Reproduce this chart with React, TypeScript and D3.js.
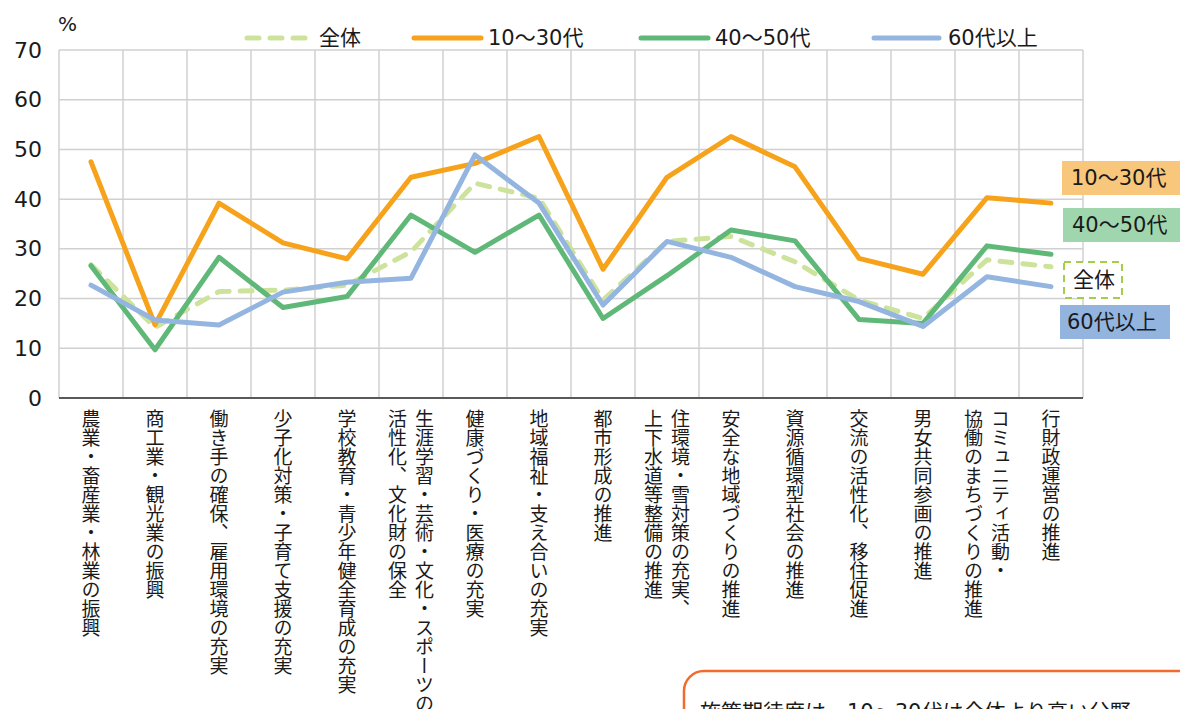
import * as d3 from 'd3';

const categories = [
  '農業・畜産業・林業の振興',
  '商工業・観光業の振興',
  '働き手の確保、雇用環境の充実',
  '少子化対策・子育て支援の充実',
  '学校教育・青少年健全育成の充実',
  '生涯学習・芸術・文化・スポーツの|活性化、文化財の保全',
  '健康づくり・医療の充実',
  '地域福祉・支え合いの充実',
  '都市形成の推進',
  '住環境・雪対策の充実、|上下水道等整備の推進',
  '安全な地域づくりの推進',
  '資源循環型社会の推進',
  '交流の活性化、移住促進',
  '男女共同参画の推進',
  'コミュニティ活動・|協働のまちづくりの推進',
  '行財政運営の推進',
];

const zentai = [26.8, 14.2, 21.4, 21.7, 22.7, 29.4, 43.2, 40.2, 19.7, 31.5, 32.5, 27.4, 19.7, 16.0, 27.8, 26.4];
const age10to30 = [47.5, 14.7, 39.2, 31.2, 28.0, 44.4, 47.2, 52.6, 25.9, 44.4, 52.6, 46.5, 28.1, 24.9, 40.3, 39.2];
const age40to50 = [26.6, 9.7, 28.3, 18.2, 20.4, 36.8, 29.3, 36.8, 16.0, 24.6, 33.8, 31.6, 15.8, 15.0, 30.6, 28.9];
const age60plus = [22.7, 15.7, 14.7, 21.3, 23.3, 24.1, 48.9, 39.2, 18.7, 31.5, 28.3, 22.4, 19.4, 14.4, 24.4, 22.4];

const yTicks = [0, 10, 20, 30, 40, 50, 60, 70];

const series = [
  { name: '全体', values: zentai, color: '#cde39c', dash: '12 11' },
  { name: '10～30代', values: age10to30, color: '#f7a21b', dash: '' },
  { name: '40～50代', values: age40to50, color: '#5fb878', dash: '' },
  { name: '60代以上', values: age60plus, color: '#94b5df', dash: '' },
];

const FONT = '"Noto Sans CJK JP", "Noto Sans", sans-serif';
const NUMFONT = '"DejaVu Sans", "Noto Sans CJK JP", sans-serif';

export default function App() {
  const width = 1180;
  const height = 709;
  const left = 59, right = 1083, top = 50, bottom = 398;

  const x = d3.scaleBand<string>().domain(categories).range([left, right]).padding(0);
  const y = d3.scaleLinear().domain([0, 70]).range([bottom, top]);
  const cx = (i: number) => x(categories[i])! + x.bandwidth() / 2;

  const line = d3.line<number>()
    .x((_, i) => cx(i))
    .y(d => y(d));

  // legend layout
  const legendItems = [
    { s: series[0], x1: 247, x2: 305, tx: 319 },
    { s: series[1], x1: 414, x2: 481, tx: 488 },
    { s: series[2], x1: 641, x2: 708, tx: 715 },
    { s: series[3], x1: 874, x2: 939, tx: 948 },
  ];

  // right-side end labels
  const endLabels = [
    { text: '10～30代', x: 1062, y: 161, w: 122, h: 34, fill: '#f9c77b', stroke: 'none', tx: 1071 },
    { text: '40～50代', x: 1063, y: 208, w: 122, h: 34, fill: '#a0d6ae', stroke: 'none', tx: 1072 },
    { text: '全体', x: 1064, y: 262, w: 58, h: 36, fill: '#ffffff', stroke: '#a5cd47', tx: 1073 },
    { text: '60代以上', x: 1060, y: 305, w: 110, h: 34, fill: '#93b4de', stroke: 'none', tx: 1067 },
  ];

  return (
    <div style={{ position: 'absolute', left: 0, top: 0 }}>
      <svg width={width} height={height} style={{ display: 'block', fontFamily: FONT }}>
        <rect width={width} height={height} fill="#ffffff" />

        {/* horizontal grid */}
        {yTicks.map(t => (
          <line key={'h' + t} x1={left} x2={right} y1={y(t)} y2={y(t)} stroke="#d0d0d0" strokeWidth={1.5} />
        ))}
        {/* vertical grid */}
        {categories.map((c, i) => (
          <line key={'v' + i} x1={x(c)!} x2={x(c)!} y1={top} y2={bottom} stroke="#d0d0d0" strokeWidth={1.5} />
        ))}
        <line x1={right} x2={right} y1={top} y2={bottom} stroke="#d0d0d0" strokeWidth={1.5} />
        {/* x axis */}
        <line x1={left} x2={right} y1={bottom} y2={bottom} stroke="#595959" strokeWidth={2} />

        {/* y tick labels */}
        {yTicks.map(t => (
          <text key={'yt' + t} x={42} y={y(t)} textAnchor="end" dominantBaseline="central" fontSize={22} fill="#1a1a1a" fontFamily={NUMFONT}>
            {t}
          </text>
        ))}
        <text x={58} y={31} fontSize={20} fill="#1a1a1a" fontFamily={NUMFONT}>%</text>

        {/* category labels (vertical) */}
        {categories.map((c, i) => {
          const lines = c.split('|');
          const offs = lines.length === 1 ? [0] : [13.5, -13.5];
          return lines.map((ln, j) => (
            <text
              key={'c' + i + '_' + j}
              x={cx(i) + offs[j]}
              y={409}
              fontSize={19}
              fill="#1a1a1a"
              style={{ writingMode: 'vertical-rl' }}
            >
              {ln}
            </text>
          ));
        })}

        {/* series lines */}
        {series.map(s => (
          <path
            key={s.name}
            d={line(s.values)!}
            fill="none"
            stroke={s.color}
            strokeWidth={5}
            strokeLinejoin="round"
            strokeLinecap="round"
            strokeDasharray={s.dash || undefined}
          />
        ))}

        {/* legend */}
        {legendItems.map(it => (
          <g key={'lg' + it.s.name}>
            <line
              x1={it.x1}
              x2={it.x2}
              y1={38}
              y2={38}
              stroke={it.s.color}
              strokeWidth={5}
              strokeLinecap="round"
              strokeDasharray={it.s.dash || undefined}
            />
            <text x={it.tx} y={38} dominantBaseline="central" fontSize={21} fill="#1a1a1a" fontFamily={NUMFONT}>
              {it.s.name}
            </text>
          </g>
        ))}

        {/* end labels */}
        {endLabels.map(l => (
          <g key={'el' + l.text}>
            <rect
              x={l.x}
              y={l.y}
              width={l.w}
              height={l.h}
              fill={l.fill}
              stroke={l.stroke}
              strokeWidth={l.stroke === 'none' ? 0 : 2}
              strokeDasharray={l.stroke === 'none' ? undefined : '7 5'}
            />
            <text x={l.tx} y={l.y + l.h / 2} dominantBaseline="central" fontSize={21} fill="#1a1a1a" fontFamily={NUMFONT}>
              {l.text}
            </text>
          </g>
        ))}

        {/* comment box at bottom right (cropped) */}
        <rect x={684} y={671} width={560} height={120} rx={20} ry={20} fill="#ffffff" stroke="#f26b2d" strokeWidth={2.5} />
        <text x={700} y={719} fontSize={21} fill="#1a1a1a" fontFamily={NUMFONT}>施策期待度は、10～30代は全体より高い分野</text>
      </svg>
    </div>
  );
}
